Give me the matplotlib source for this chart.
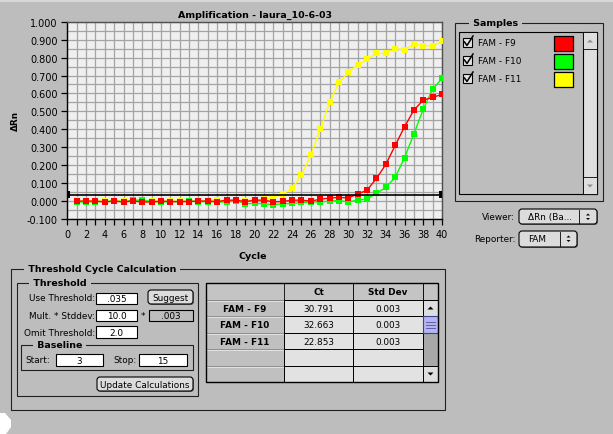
import matplotlib.pyplot as plt
import numpy as np
from matplotlib.patches import Rectangle, FancyBboxPatch, Polygon

# amplification data
cycles = np.arange(1, 41)
fam_f9 = [0.0, 0.0, 0.0, -0.005, 0.0, -0.005, 0.0, -0.005, -0.005, 0.0,
          -0.003, -0.003, -0.003, 0.0, 0.0, -0.003, 0.005, 0.005, -0.003, 0.005,
          0.005, -0.005, -0.002, 0.005, 0.005, 0.0, 0.01, 0.017, 0.02, 0.018,
          0.039, 0.061, 0.126, 0.204, 0.310, 0.414, 0.507, 0.563, 0.578, 0.595]
fam_f10 = [-0.005, -0.005, -0.003, -0.003, 0.0, -0.003, 0.005, 0.005, -0.003, -0.005,
           -0.003, -0.003, 0.0, -0.003, -0.003, -0.005, -0.005, 0.003, -0.015, -0.013,
           -0.015, -0.02, -0.015, -0.013, -0.008, -0.005, -0.005, 0.0, 0.003, -0.005,
           0.005, 0.012, 0.043, 0.076, 0.132, 0.242, 0.374, 0.513, 0.623, 0.684]
fam_f11 = [0.005, 0.003, 0.0, 0.003, 0.0, 0.003, 0.0, 0.0, 0.003, 0.0,
           0.0, 0.0, 0.0, 0.0, 0.003, 0.005, 0.003, 0.005, 0.003, 0.005,
           0.01, 0.02, 0.039, 0.071, 0.145, 0.256, 0.401, 0.550, 0.662, 0.717,
           0.760, 0.790, 0.823, 0.823, 0.849, 0.844, 0.874, 0.866, 0.866, 0.890]
threshold = 0.035

sample_names = ["FAM - F9", "FAM - F10", "FAM - F11"]
sample_colors = ["#ff0000", "#00ff00", "#ffff00"]
ct_values = ["30.791", "32.663", "22.853"]
std_devs = ["0.003", "0.003", "0.003"]

bg = "#bdbdbd"
plt.rcParams['font.family'] = ['DejaVu Sans']

fig = plt.figure(figsize=(6.13, 4.35), dpi=100, facecolor=bg)

# overlay in pixel coordinates for the window widgets
ui = fig.add_axes([0, 0, 1, 1])
ui.set_xlim(0, 613)
ui.set_ylim(435, 0)
ui.axis('off')


def box(x0, y0, x1, y1, fc='none', ec='black', lw=0.8, z=1):
    ui.add_patch(Rectangle((x0, y0), x1 - x0, y1 - y0, facecolor=fc,
                           edgecolor=ec, linewidth=lw, zorder=z))


def txt(x, y, s, ha='left', size=6.4, weight='normal', z=5, **kw):
    ui.text(x, y, s, ha=ha, va='center', fontsize=size, fontweight=weight,
            zorder=z, **kw)


def group(x0, y0, x1, y1, title, tx):
    box(x0, y0, x1, y1, ec='#202020')
    ui.text(tx, y0, " " + title + " ", ha='left', va='center', fontsize=6.8,
            fontweight='bold', zorder=3,
            bbox=dict(fc=bg, ec='none', pad=0.5))


def field(x0, y0, x1, y1, s, fc='white'):
    box(x0, y0, x1, y1, fc=fc)
    txt((x0 + x1) / 2, (y0 + y1) / 2 + 0.5, s, ha='center')


def button(x0, y0, x1, y1, s):
    ui.add_patch(FancyBboxPatch((x0 + 1, y0 + 1), x1 - x0, y1 - y0,
                                boxstyle="round,pad=0,rounding_size=3",
                                fc='#707070', ec='none', zorder=1))
    ui.add_patch(FancyBboxPatch((x0, y0), x1 - x0, y1 - y0,
                                boxstyle="round,pad=0,rounding_size=3",
                                fc='#dcdcdc', ec='black', lw=0.8, zorder=2))
    txt((x0 + x1) / 2, (y0 + y1) / 2 + 0.5, s, ha='center')


def tri(cx, cy, up=True, color='black', s=3):
    d = -s if up else s
    ui.add_patch(Polygon([(cx - s, cy - d / 2), (cx + s, cy - d / 2), (cx, cy + d / 2)],
                         closed=True, fc=color, ec='none', zorder=6))


# top strip and corner blob
box(0, 0, 613, 3, fc='#d8d8d8', ec='none', lw=0)
ui.add_patch(Polygon([(0, 414), (5, 414), (11, 421), (11, 428), (6, 435), (0, 435)],
                     closed=True, fc='white', ec='none'))

# ---- amplification plot ----
ax = fig.add_axes([67.3 / 613, 1 - 220 / 435, (442 - 67.3) / 613, (220 - 22.7) / 435])
ax.set_facecolor('#efefef')
for vals, col in zip([fam_f11, fam_f10, fam_f9], sample_colors[::-1]):
    ax.plot(cycles, vals, color=col, lw=1, marker='s', ms=3.7, mew=0, mfc=col, zorder=3)
ax.axhline(threshold, color='black', lw=1.2, zorder=4)
ax.add_patch(Rectangle((0, threshold - 0.02), 0.3, 0.04, fc='black', ec='none',
                       clip_on=False, zorder=5))
ax.add_patch(Rectangle((39.7, threshold - 0.02), 0.3, 0.04, fc='black', ec='none',
                       clip_on=False, zorder=5))
ax.set_xlim(0, 40)
ax.set_ylim(-0.1, 1.0)
ax.set_xticks(range(0, 41, 2))
ax.set_xticks(range(0, 41), minor=True)
ax.set_yticks(np.round(np.arange(-0.1, 1.01, 0.1), 2))
ax.set_yticks(np.round(np.arange(-0.1, 1.01, 0.05), 2), minor=True)
ax.set_yticklabels([f"{v:.3f}" for v in np.arange(-0.1, 1.01, 0.1)])
ax.grid(which='both', color='#a4a4a4', lw=0.9)
ax.set_axisbelow(True)
ax.tick_params(which='both', direction='out', length=4, width=0.9, labelsize=7, pad=3)
ax.tick_params(axis='y', which='minor', length=0)
for side in ['left', 'bottom']:
    ax.spines[side].set_color('black')
    ax.spines[side].set_linewidth(1)
for side in ['top', 'right']:
    ax.spines[side].set_color('#505050')
    ax.spines[side].set_linewidth(1)

txt(255, 15, "Amplification - laura_10-6-03", ha='center', size=6.8, weight='bold')
txt(15, 121, "\u0394Rn", ha='center', size=6.4, weight='bold', rotation=90)
txt(253, 257, "Cycle", ha='center', size=6.8, weight='bold')

# ---- samples panel ----
group(455, 24, 603, 202, "Samples", 470)
box(459, 33, 597, 195, fc=bg)
box(583, 33, 597, 195, fc='#dedede')
box(583, 33, 597, 50, fc='#dedede', lw=0.6)
box(583, 178, 597, 195, fc='#dedede', lw=0.6)
tri(590, 42, up=True, color='#909090', s=3)
tri(590, 187, up=False, color='#909090', s=3)
for i, (name, col) in enumerate(zip(sample_names, sample_colors)):
    y = 44 + 18 * i
    box(463, y - 5, 472, y + 4, fc='#e4e4e4')
    ui.plot([464.5, 467, 473], [y - 1, y + 2.5, y - 7], color='black', lw=1.1, zorder=6)
    txt(478, y, name)
    box(554, y - 7, 573, y + 8, fc=col, lw=0.9)

# viewer / reporter popups
txt(515, 218, "Viewer:", ha='right')
button(519, 210, 597, 225, "")
ui.plot([579, 579], [211, 224], color='black', lw=0.6, zorder=4)
txt(528, 218, "\u0394Rn (Ba...", ha='left')
tri(588, 215.5, up=True, s=2)
tri(588, 220, up=False, s=2)
txt(516, 240, "Reporter:", ha='right')
button(519, 232, 577, 248, "")
ui.plot([560, 560], [233, 247], color='black', lw=0.6, zorder=4)
txt(528, 240, "FAM", ha='left')
tri(568.5, 237.5, up=True, s=2)
tri(568.5, 242, up=False, s=2)

# ---- threshold cycle calculation ----
group(11, 270, 445, 411, "Threshold Cycle Calculation", 25)
group(17, 284, 198, 397, "Threshold", 30)
txt(95, 299, "Use Threshold:", ha='right')
field(96, 294, 137, 305, ".035")
button(148, 291, 193, 305, "Suggest")
txt(95, 316.5, "Mult. * Stddev:", ha='right')
field(96, 311, 137, 322, "10.0")
txt(143, 317, "*", ha='center')
field(149, 311, 193, 322, ".003", fc=bg)
txt(95, 333.5, "Omit Threshold:", ha='right')
field(96, 327, 137, 339, "2.0")
group(21, 346, 193, 371, "Baseline", 34)
txt(25, 361, "Start:")
field(56, 355, 103, 367, "3")
txt(113, 361, "Stop:")
field(139, 355, 187, 367, "15")
button(97, 378, 193, 392, "Update Calculations")

# table
cols = [206, 284, 353, 423, 438]
rows = [284, 301, 317, 334, 350, 367, 383]
box(cols[0], rows[0], cols[3], rows[1], fc='#c4c4c4', lw=0.6)
box(cols[1], rows[0], cols[2], rows[1], fc='#c4c4c4', lw=0.6)
box(cols[2], rows[0], cols[3], rows[1], fc='#c4c4c4', lw=0.6)
txt((cols[1] + cols[2]) / 2, 292.5, "Ct", ha='center', weight='bold')
txt((cols[2] + cols[3]) / 2, 292.5, "Std Dev", ha='center', weight='bold')
for r in range(5):
    y0, y1 = rows[r + 1], rows[r + 2]
    box(cols[0], y0, cols[1], y1, fc='#c0c0c0', ec='#8c8c8c', lw=0.6)
    ui.plot([cols[0] + 1, cols[1] - 1], [y0 + 1, y0 + 1], color='#e8e8e8', lw=0.6, zorder=2)
    box(cols[1], y0, cols[2], y1, fc='#e2e2e2', ec='black', lw=0.7)
    box(cols[2], y0, cols[3], y1, fc='#e2e2e2', ec='black', lw=0.7)
    if r < len(sample_names):
        cy = (y0 + y1) / 2 + 0.5
        txt((cols[0] + cols[1]) / 2, cy, sample_names[r], ha='center', weight='bold')
        txt((cols[1] + cols[2]) / 2, cy, ct_values[r], ha='center')
        txt((cols[2] + cols[3]) / 2, cy, std_devs[r], ha='center')
# table scrollbar
box(cols[3], rows[0], cols[4], rows[1], fc='#c4c4c4', lw=0.6)
box(cols[3], rows[1], cols[4], rows[2], fc='#dedede', lw=0.7)
tri(430.5, 309, up=True, s=3)
box(cols[3], rows[2], cols[4], rows[3], fc='#b4b4f0', ec='#404090', lw=0.8, z=2)
for yy in [322.5, 325.5, 328.5]:
    ui.plot([426, 435], [yy, yy], color='#5050a0', lw=0.6, zorder=3)
box(cols[3], rows[3], cols[4], rows[5], fc='#a8a8a8', lw=0.7)
box(cols[3], rows[5], cols[4], rows[6], fc='#dedede', lw=0.7)
tri(430.5, 375, up=False, s=3)
box(cols[0], rows[0], cols[4], rows[6], fc='none', ec='black', lw=1.0, z=4)

fig.savefig("out.png", dpi=100, facecolor=bg)
